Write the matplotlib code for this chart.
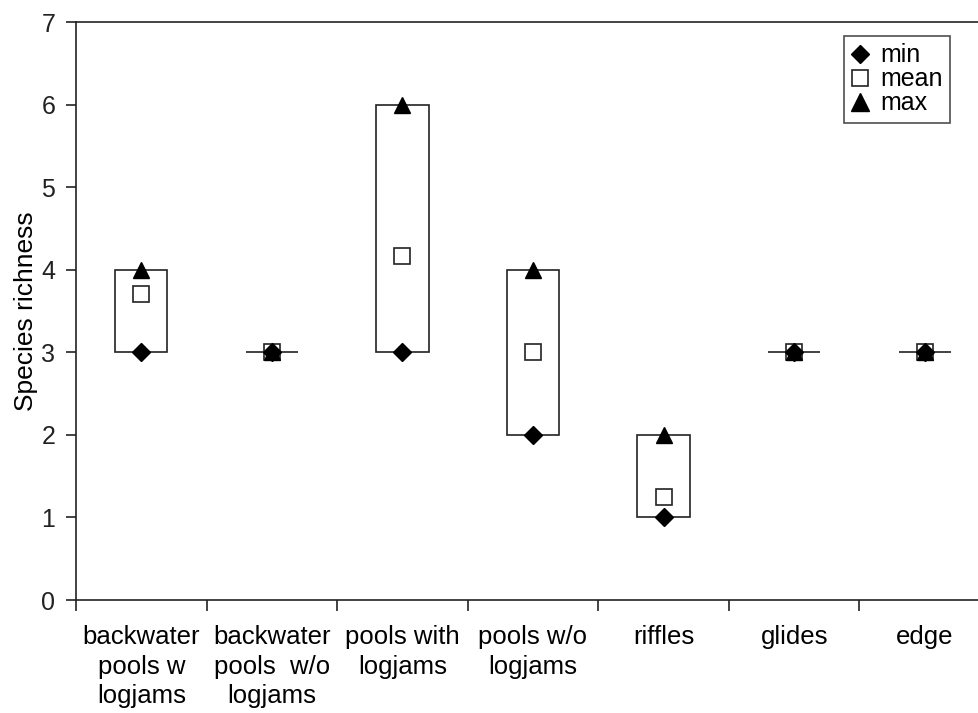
import matplotlib
matplotlib.use("Agg")
import matplotlib.pyplot as plt
import numpy as np

plt.rcParams['font.family'] = ['Liberation Sans', 'DejaVu Sans']

categories = ["backwater\npools w\nlogjams", "backwater\npools  w/o\nlogjams",
              "pools with\nlogjams", "pools w/o\nlogjams", "riffles", "glides", "edge"]
min_vals = [3, 3, 3, 2, 1, 3, 3]
mean_vals = [3.7, 3, 4.17, 3, 1.25, 3, 3]
max_vals = [4, 3, 6, 4, 2, 3, 3]

fig = plt.figure(figsize=(9.79, 7.13), dpi=100)
ax = fig.add_axes([76/979, 1 - 600/713, (990 - 76)/979, (600 - 22)/713])

x = np.arange(len(categories)) + 0.5
box_w = 0.4
ink = "#222222"

for xi, lo, hi in zip(x, min_vals, max_vals):
    ax.add_patch(plt.Rectangle((xi - box_w/2, lo), box_w, hi - lo,
                               fill=False, edgecolor=ink, linewidth=1.2, zorder=2))

ax.plot(x, min_vals, linestyle="none", marker="D", ms=9, color="black",
        label="min", zorder=4)
ax.plot(x, mean_vals, linestyle="none", marker="s", ms=11, mfc="white",
        mec=ink, mew=1.2, label="mean", zorder=3)
ax.plot(x, max_vals, linestyle="none", marker="^", ms=12, color="black",
        label="max", zorder=4)

ax.set_xlim(0, 7)
ax.set_ylim(0, 7)

for side in ["left", "top", "bottom", "right"]:
    ax.spines[side].set_color(ink)
    ax.spines[side].set_linewidth(1.2)

ax.set_yticks(range(0, 8))
ax.tick_params(axis="y", direction="out", length=7, width=1.2, color=ink,
               labelsize=18, pad=8, labelcolor="#222222")

ax.set_xticks(range(0, 8))
ax.set_xticklabels([])
ax.tick_params(axis="x", which="major", direction="out", length=8, width=1.2, color=ink)
ax.set_xticks(x, minor=True)
ax.set_xticklabels(categories, minor=True, fontsize=18.5, linespacing=1.3)
ax.tick_params(axis="x", which="minor", length=0, pad=18)

ax.set_ylabel("Species richness", fontsize=19)
ax.yaxis.set_label_coords(-0.042, 0.5)

leg = ax.legend(loc="upper right", bbox_to_anchor=(950/979, 1 - 36/713),
                bbox_transform=fig.transFigure, fontsize=18, frameon=True,
                fancybox=False, handlelength=0.7, handletextpad=0.45,
                borderpad=0.3, labelspacing=0.0, borderaxespad=0, markerscale=1.05)
leg.get_frame().set_edgecolor(ink)
leg.get_frame().set_linewidth(1.2)

fig.savefig("out.png", dpi=100)
